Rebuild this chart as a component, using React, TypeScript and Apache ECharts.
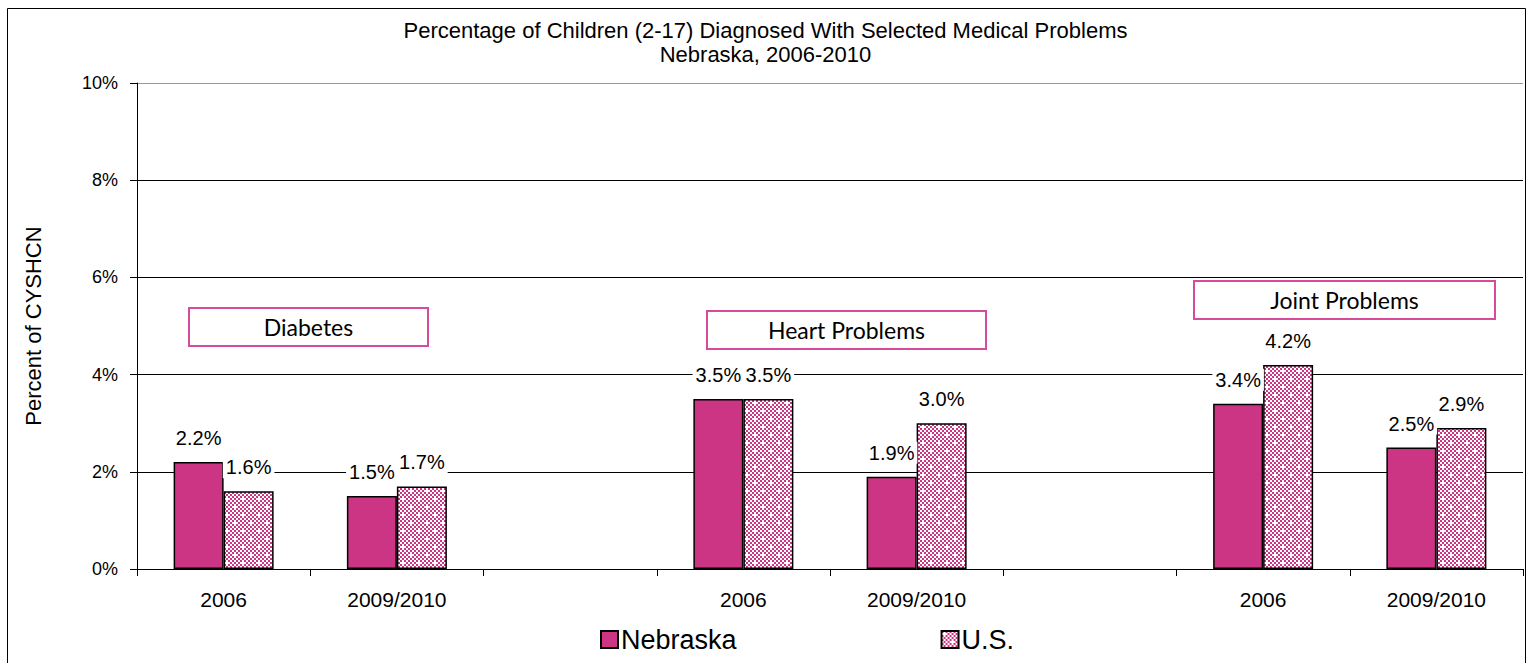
import React, { useEffect, useRef } from "react";
import * as echarts from "echarts";

const categories = ["2006", "2009/2010", "", "2006", "2009/2010", "", "2006", "2009/2010"];
const nebraska: (number | string)[] = [2.2, 1.5, "-", 3.5, 1.9, "-", 3.4, 2.5];
const us: (number | string)[] = [1.6, 1.7, "-", 3.5, 3.0, "-", 4.2, 2.9];
const yTicks = { min: 0, max: 10, interval: 2 };
const boxLabels = ["Diabetes", "Heart Problems", "Joint Problems"];

const PINK = "#CC3584";
const BOX = "#D84B9C";
const FONT = "'Liberation Sans', Arial, sans-serif";

function makePattern(): HTMLCanvasElement {
  const c = document.createElement("canvas");
  c.width = 16;
  c.height = 16;
  const ctx = c.getContext("2d")!;
  ctx.fillStyle = "#ffffff";
  ctx.fillRect(0, 0, 16, 16);
  ctx.fillStyle = PINK;
  for (let i = 0; i < 8; i++) {
    for (let j = 0; j < 8; j++) {
      if ((i + j) % 2 === 0) {
        if ((i === 1 && j === 1) || (i === 5 && j === 5)) continue;
        ctx.fillRect(i * 2, j * 2, 2, 2);
      }
    }
  }
  return c;
}

export default function App() {
  const ref = useRef<HTMLDivElement>(null);
  useEffect(() => {
    document.body.style.margin = "0";
    const chart = echarts.init(ref.current!, null, { renderer: "svg" });
    const pat = makePattern();
    const usColor: any = { image: pat.toDataURL(), repeat: "repeat", imageWidth: 16, imageHeight: 16 };

    const boxes = [
      { x: 188, y: 307, w: 239, h: 38 },
      { x: 706, y: 310, w: 279, h: 38 },
      { x: 1193, y: 280, w: 301, h: 38 },
    ];

    const label = {
      show: true,
      position: "top" as const,
      distance: 13,
      formatter: (p: any) => `${Number(p.value).toFixed(1)}%`,
      color: "#000",
      fontSize: 20,
      fontFamily: FONT,
      backgroundColor: "#fff",
      padding: [1, 3, 1, 3],
    };

    chart.setOption({
      animation: false,
      title: {
        text: "Percentage of Children (2-17) Diagnosed With Selected Medical Problems\nNebraska, 2006-2010",
        left: "center",
        top: 13,
        textStyle: { fontSize: 22, lineHeight: 24, fontWeight: "normal", color: "#000", fontFamily: FONT },
      },
      legend: {
        left: 600,
        top: 626,
        padding: 0,
        itemWidth: 17,
        itemHeight: 17,
        itemGap: 204,
        icon: "rect",
        textStyle: { fontSize: 27, color: "#000", fontFamily: FONT, padding: [0, 0, 0, -2] },
        data: ["Nebraska", "U.S."],
      },
      grid: { left: 137, right: 8, top: 83, bottom: 94 },
      xAxis: {
        type: "category",
        data: categories,
        axisLine: { lineStyle: { color: "#000", width: 1 } },
        axisTick: { show: true, length: 7, lineStyle: { color: "#000" } },
        axisLabel: { fontSize: 21, color: "#000", fontFamily: FONT, margin: 20, interval: 0 },
        splitLine: { show: false },
      },
      yAxis: {
        type: "value",
        min: yTicks.min,
        max: yTicks.max,
        interval: yTicks.interval,
        name: "Percent of CYSHCN",
        nameLocation: "middle",
        nameGap: 93,
        nameTextStyle: { fontSize: 22, color: "#000", fontFamily: FONT },
        axisLine: { show: true, lineStyle: { color: "#000", width: 1 } },
        axisTick: { show: true, length: 7, lineStyle: { color: "#000" } },
        axisLabel: { fontSize: 18, color: "#000", fontFamily: FONT, margin: 19, formatter: (v: number) => `${v}%` },
        splitLine: { show: true, lineStyle: { color: ["#000", "#000", "#000", "#000", "#000", "#999"], width: 1 } },
      },
      series: [
        {
          name: "Nebraska",
          type: "bar",
          data: nebraska,
          barWidth: 50,
          barGap: "0%",
          itemStyle: { color: PINK, borderColor: "#000", borderWidth: 1.5 },
          label,
        },
        {
          name: "U.S.",
          type: "bar",
          data: us,
          barWidth: 50,
          barGap: "0%",
          itemStyle: { color: usColor, borderColor: "#000", borderWidth: 1.5 },
          label,
        },
      ],
      graphic: [
        {
          type: "rect",
          left: 5,
          top: 6,
          shape: { width: 1518, height: 670 },
          style: { fill: "none", stroke: "#000", lineWidth: 1 },
          silent: true,
          z: -1,
        },
        ...boxes.map((b, i) => ({
          type: "group",
          left: b.x,
          top: b.y,
          children: [
            { type: "rect", shape: { x: 0, y: 0, width: b.w, height: b.h }, style: { fill: "#fff", stroke: BOX, lineWidth: 2 } },
            {
              type: "text",
              x: b.w / 2,
              y: b.h / 2,
              style: { text: boxLabels[i], fill: "#000", fontSize: 23, fontFamily: "Lato, 'Open Sans', sans-serif", align: "center", verticalAlign: "middle" },
            },
          ],
        })),
      ],
    });
    return () => chart.dispose();
  }, []);
  return <div ref={ref} style={{ width: 1531, height: 663 }} />;
}
